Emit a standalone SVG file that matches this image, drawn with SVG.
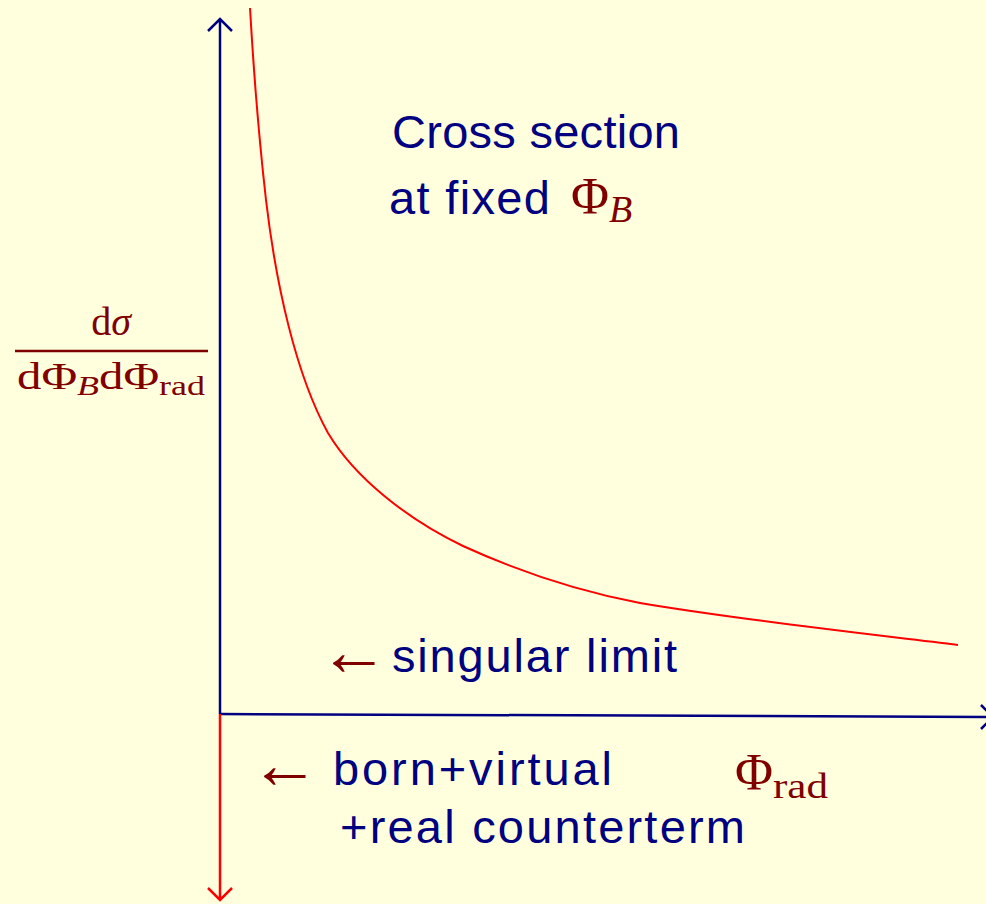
<svg xmlns="http://www.w3.org/2000/svg" width="986" height="904" viewBox="0 0 986 904">
<style>
.sans{font-family:"Liberation Sans","DejaVu Sans",sans-serif;fill:#000080}
.math{font-family:"Liberation Serif","DejaVu Serif",serif;fill:#800000}
.arr{font-family:"Liberation Serif","DejaVu Serif",serif;fill:#800000;font-size:70px}
.it{font-style:italic}
</style>
<rect width="986" height="904" fill="#FFFFDE"/>
<g id="connectors" fill="none" stroke-width="2.5">
<path d="M220,714 V19 M208,31 L220,19 L232,31" stroke="#000080"/>
<path d="M220,714 L993,717 M981,705 L993,717 L981,729" stroke="#000080"/>
<path d="M220,714 V900 M208,888 L220,900 L232,888" stroke="#FF0000"/>
<path d="M250,8 C253,60 258,130 266,200 C276,285 296,375 328,433 C355,478 407,519 463,546 C522,573 582,592 640,603 C740,620 860,633 958,645" stroke="#FF0000" stroke-width="2"/>
</g>
<g id="title">
<text class="sans" x="392" y="148" font-size="47" textLength="288" lengthAdjust="spacing">Cross section</text>
<text class="sans" x="389" y="214" font-size="47" textLength="161" lengthAdjust="spacing">at fixed</text>
<text class="math" x="571" y="214" font-size="52">Φ<tspan class="it" font-size="38" dy="8">B</tspan></text>
</g>
<g id="ylabel">
<text class="math" x="111" y="335" font-size="40" text-anchor="middle">d<tspan class="it">σ</tspan></text>
<line x1="15" y1="351" x2="208" y2="351" stroke="#800000" stroke-width="2.5"/>
<text class="math" x="17" y="389" font-size="38" textLength="188" lengthAdjust="spacingAndGlyphs">dΦ<tspan class="it" font-size="28" dy="6">B</tspan><tspan dy="-6">dΦ</tspan><tspan font-size="28" dy="6">rad</tspan></text>
</g>
<g id="singular">
<text class="arr" x="319" y="675">←</text>
<text class="sans" x="392" y="672" font-size="47" textLength="285" lengthAdjust="spacing">singular limit</text>
</g>
<g id="born">
<text class="arr" x="250" y="788">←</text>
<text class="sans" x="333" y="785" font-size="47" textLength="279" lengthAdjust="spacing">born+virtual</text>
<text class="sans" x="340" y="843" font-size="47" textLength="405" lengthAdjust="spacing">+real counterterm</text>
</g>
<g id="xlabel">
<text class="math" x="735" y="790" font-size="52">Φ<tspan font-size="36" dy="8" textLength="55" lengthAdjust="spacingAndGlyphs">rad</tspan></text>
</g>
</svg>
